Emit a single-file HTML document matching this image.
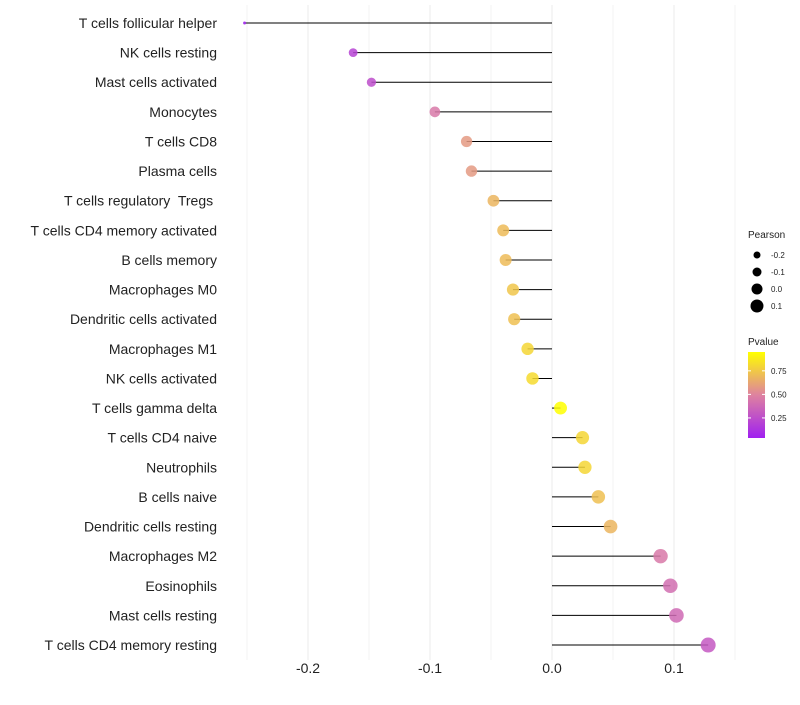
<!DOCTYPE html>
<html><head><meta charset="utf-8"><style>
body{margin:0;background:#fff;font-family:"Liberation Sans",sans-serif;}
</style></head><body>
<svg id="c" width="800" height="700" xmlns="http://www.w3.org/2000/svg"></svg>
<script>
const categories=["T cells follicular helper","NK cells resting","Mast cells activated","Monocytes","T cells CD8","Plasma cells","T cells regulatory  Tregs ","T cells CD4 memory activated","B cells memory","Macrophages M0","Dendritic cells activated","Macrophages M1","NK cells activated","T cells gamma delta","T cells CD4 naive","Neutrophils","B cells naive","Dendritic cells resting","Macrophages M2","Eosinophils","Mast cells resting","T cells CD4 memory resting"];
const pearson=[-0.252,-0.163,-0.148,-0.096,-0.070,-0.066,-0.048,-0.040,-0.038,-0.032,-0.031,-0.020,-0.016,0.007,0.025,0.027,0.038,0.048,0.089,0.097,0.102,0.128];
const pvalue=[0.04,0.2,0.25,0.45,0.58,0.58,0.68,0.7,0.7,0.74,0.72,0.8,0.82,0.95,0.8,0.8,0.72,0.68,0.45,0.4,0.38,0.3];
const xTicks=[-0.2,-0.1,0.0,0.1];
const xTickLabels=["-0.2","-0.1","0.0","0.1"];
const sizeLegend=[-0.2,-0.1,0.0,0.1];
const pLegend=[0.25,0.5,0.75];
const NS="http://www.w3.org/2000/svg";
const svg=document.getElementById('c');
function el(t,a,p){const e=document.createElementNS(NS,t);for(const k in a)e.setAttribute(k,a[k]);(p||svg).appendChild(e);return e;}
const x=v=>552+v*1220;
const y=i=>23+i*29.62;
const r=v=>1.5+6*Math.sqrt(Math.max(0,(v+0.252)/0.38));
const pmin=0.037,pmax=0.95;
function col(p){let t=Math.max(0,Math.min(1,(p-pmin)/(pmax-pmin)));
const a=[160,32,240],m=[222,130,160],b=[255,255,0];let c;
if(t<0.5){const s=t*2;c=a.map((v,i)=>v+(m[i]-v)*s);}else{const s=(t-0.5)*2;c=m.map((v,i)=>v+(b[i]-v)*s);}
return `rgb(${c.map(Math.round).join(',')})`;}
for(let v=-0.25;v<=0.151;v+=0.05){const g=el('line',{x1:x(v),x2:x(v),y1:5,y2:660,stroke:'#ebebeb','stroke-width':Math.abs(Math.round(v*100)%10)<1?1:0.6});
}
xTicks.forEach((v,i)=>{const t=el('text',{x:x(v),y:673,'text-anchor':'middle','font-size':14,fill:'#222'});t.textContent=xTickLabels[i];
});
categories.forEach((c,i)=>{
const t=el('text',{x:217,y:y(i)+5,'text-anchor':'end','font-size':14,fill:'#222'});t.textContent=c;t.style.whiteSpace='pre';

const l=el('line',{x1:x(pearson[i]),x2:x(0),y1:y(i),y2:y(i),stroke:'#000','stroke-width':1});

const p=el('circle',{cx:x(pearson[i]),cy:y(i),r:r(pearson[i]),fill:col(pvalue[i]),'fill-opacity':0.85});

});
const lt=el('text',{x:748,y:238,'font-size':10,fill:'#222'});lt.textContent='Pearson';

sizeLegend.forEach((v,i)=>{const cy=255+i*17;
const c=el('circle',{cx:757,cy:cy,r:3.5+i*1,fill:'#000'});
const t=el('text',{x:771,y:cy+3,'font-size':8,fill:'#222'});t.textContent=v.toFixed(1);});
const pt=el('text',{x:748,y:345,'font-size':10,fill:'#222'});pt.textContent='Pvalue';

const defs=el('defs',{});const lg=el('linearGradient',{id:'g',x1:0,y1:1,x2:0,y2:0},defs);
for(let k=0;k<=10;k++){el('stop',{offset:k/10,'stop-color':col(pmin+(pmax-pmin)*k/10)},lg);}
const bar=el('rect',{x:748,y:352,width:17,height:86,fill:'url(#g)'});
pLegend.forEach(v=>{const yy=438-(v-pmin)/(pmax-pmin)*86;
el('line',{x1:748,x2:751,y1:yy,y2:yy,stroke:'#fff'});el('line',{x1:762,x2:765,y1:yy,y2:yy,stroke:'#fff'});
const t=el('text',{x:771,y:yy+3,'font-size':8,fill:'#222'});t.textContent=v.toFixed(2);});
</script>
</body></html>
